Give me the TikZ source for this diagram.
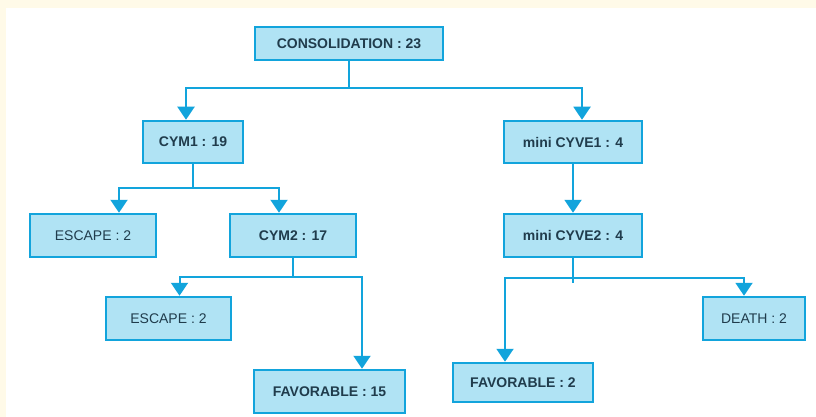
\documentclass[tikz,border=0pt]{standalone}
\usepackage{fontspec}
\setmainfont{Liberation Sans}
\usetikzlibrary{arrows.meta}
\definecolor{boxline}{HTML}{12A4DC}
\definecolor{boxfill}{HTML}{B0E3F4}
\definecolor{boxtext}{HTML}{203C4C}
\definecolor{paper}{HTML}{FFFAE8}

\begin{document}
\begin{tikzpicture}[x=1pt, y=-1pt,
            every node/.style={
            inner sep=0pt, text centered, text=boxtext, font=\fontsize{14}{16}\selectfont}
        ]
        \tikzstyle {leaf} = [rectangle, draw=boxline, fill=boxfill, line width=2.5pt]
        \tikzstyle {bold_leaf} = [leaf, font=\fontsize{14}{16}\selectfont\bfseries]
        \tikzstyle {link} = [draw=boxline, line width=2pt, -{Triangle[width=17pt,length=13pt]}]

        % page
        \useasboundingbox (0,0) rectangle (816,417);
        \fill[paper] (0,0) rectangle (816,417);
        \fill[white] (6,8) rectangle (816,417);

        \node [bold_leaf, minimum width=188pt, minimum height=33pt] (cons) at (349,43.5) {CONSOLIDATION : 23};
        \node [bold_leaf, minimum width=100pt, minimum height=42pt] (cym1) at (193,142) {CYM1 : 19};
        \node [bold_leaf, minimum width=138pt, minimum height=42pt] (cyve1) at (573,142) {mini CYVE1 : 4};
        \node [leaf, minimum width=126pt, minimum height=43pt] (esc1) at (93,235.5) {ESCAPE : 2};
        \node [bold_leaf, minimum width=126pt, minimum height=43pt] (cym2) at (293,235.5) {CYM2 : 17};
        \node [bold_leaf, minimum width=138pt, minimum height=43pt] (cyve2) at (573,235.5) {mini CYVE2 : 4};
        \node [leaf, minimum width=125pt, minimum height=43pt] (esc2) at (168.5,318.5) {ESCAPE : 2};
        \node [bold_leaf, minimum width=151pt, minimum height=43pt] (fav15) at (329.5,391.5) {FAVORABLE : 15};
        \node [bold_leaf, minimum width=140pt, minimum height=39pt] (fav2) at (523,382.5) {FAVORABLE : 2};
        \node [leaf, minimum width=102pt, minimum height=43pt] (death) at (754,318.5) {DEATH : 2};

        \coordinate (bar0) at (0,88);
        \coordinate (bar1) at (0,188);
        \coordinate (bar2) at (0,277);
        \coordinate (bar3) at (0,278);
        \coordinate (tick) at (0,283);

        \draw [link] (cons.south) -- (cons.south |- bar0) -| ([xshift=-7pt]cym1.north);
        \draw [link] (cons.south) -- (cons.south |- bar0) -| ([xshift=9pt]cyve1.north);
        \draw [link] (cym1.south) -- (cym1.south |- bar1) -| ([xshift=26pt]esc1.north);
        \draw [link] (cym1.south) -- (cym1.south |- bar1) -| ([xshift=-14pt]cym2.north);
        \draw [link] (cyve1) -- (cyve2);
        \draw [link] (cym2.south) -- (cym2.south |- bar2) -| ([xshift=11pt]esc2.north);
        \draw [link] (cym2.south) -- (cym2.south |- bar2) -| ([xshift=32.5pt]fav15.north);
        \draw [link] (cyve2.south) -- (cyve2.south |- bar3) -| ([xshift=-18pt]fav2.north);
        \draw [link] (cyve2.south) -- (cyve2.south |- bar3) -| ([xshift=-10pt]death.north);
        \draw [draw=boxline, line width=2pt] (cyve2.south) -- (cyve2.south |- tick);

\end{tikzpicture}
\end{document}
